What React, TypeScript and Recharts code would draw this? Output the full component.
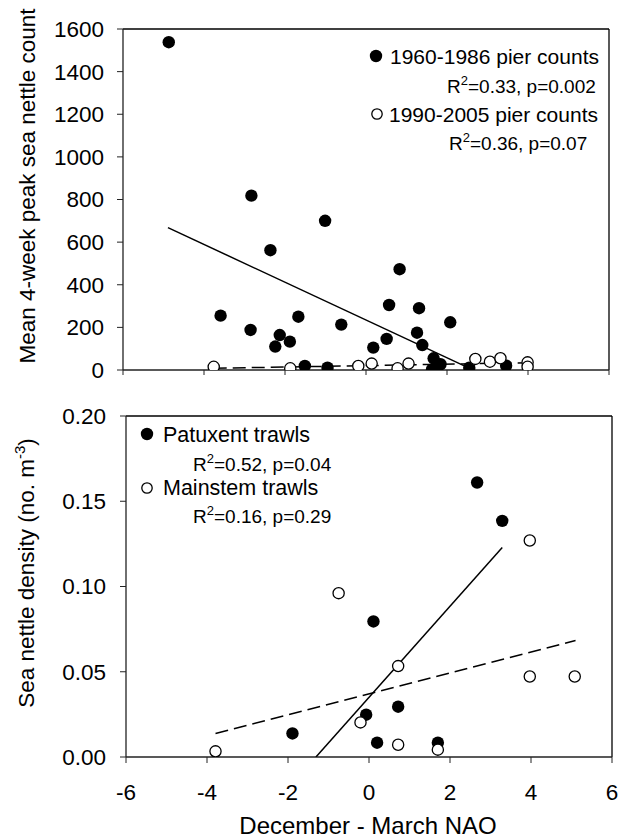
import { ScatterChart, Scatter, XAxis, YAxis, ReferenceLine } from "recharts";

const X_TICKS = [-6, -4, -2, 0, 2, 4, 6];
const PIER_TICKS = [0, 200, 400, 600, 800, 1000, 1200, 1400, 1600];
const TRAWL_TICKS = [0, 0.05, 0.1, 0.15, 0.2];

// top panel: pier counts vs NAO
const pier1960 = [
  { x: -4.87, y: 1538 }, { x: -2.83, y: 818 }, { x: -1.01, y: 700 },
  { x: -2.36, y: 562 }, { x: 0.83, y: 473 }, { x: -3.59, y: 255 },
  { x: -2.85, y: 188 }, { x: -2.13, y: 164 }, { x: -2.24, y: 110 },
  { x: -1.88, y: 133 }, { x: -1.67, y: 250 }, { x: -0.61, y: 213 },
  { x: -1.51, y: 19 }, { x: -0.95, y: 11 }, { x: 0.18, y: 105 },
  { x: 0.57, y: 305 }, { x: 0.51, y: 146 }, { x: 1.31, y: 290 },
  { x: 1.26, y: 175 }, { x: 1.39, y: 117 }, { x: 1.67, y: 55 },
  { x: 1.84, y: 27 }, { x: 1.63, y: 3 }, { x: 2.08, y: 224 },
  { x: 2.55, y: 11 }, { x: 3.46, y: 20 },
];
const pier1990 = [
  { x: -3.76, y: 15 }, { x: -1.87, y: 8 }, { x: -0.19, y: 19 },
  { x: 0.14, y: 30 }, { x: 0.78, y: 8 }, { x: 1.05, y: 30 },
  { x: 2.7, y: 52 }, { x: 3.06, y: 39 }, { x: 3.32, y: 55 },
  { x: 3.99, y: 36 }, { x: 3.99, y: 15 },
];
const pier1960Fit = [{ x: -4.89, y: 668 }, { x: 2.6, y: 4 }];
const pier1990Fit = [{ x: -3.76, y: 8 }, { x: 3.99, y: 34 }];

// bottom panel: trawl densities vs NAO
const patuxent = [
  { x: 2.67, y: 0.161 }, { x: 3.29, y: 0.1385 }, { x: 0.11, y: 0.0795 },
  { x: 0.72, y: 0.0295 }, { x: -0.07, y: 0.0248 }, { x: -1.89, y: 0.0138 },
  { x: 0.2, y: 0.0084 }, { x: 1.7, y: 0.0084 },
];
const mainstem = [
  { x: 3.97, y: 0.127 }, { x: -0.75, y: 0.0961 }, { x: 0.72, y: 0.0533 },
  { x: 3.97, y: 0.0472 }, { x: 5.08, y: 0.0472 }, { x: -0.21, y: 0.0203 },
  { x: 0.72, y: 0.0072 }, { x: 1.7, y: 0.0043 }, { x: -3.79, y: 0.0033 },
];
const patuxentFit = [{ x: -1.31, y: 0 }, { x: 3.29, y: 0.1229 }];
const mainstemFit = [{ x: -3.79, y: 0.0138 }, { x: 5.1, y: 0.0683 }];

const FONT = "'Liberation Sans', Arial, sans-serif";
const AXIS = "#222";
const tickStyle = { fill: "#000", fontSize: 22.5, fontFamily: FONT };

const Filled = (p: any) => <circle cx={p.cx} cy={p.cy} r={6.2} fill="#000" />;
const Open = (p: any) => (
  <circle cx={p.cx} cy={p.cy} r={5.6} fill="#fff" stroke="#000" strokeWidth={1.3} />
);
const Nothing = () => <g />;

const R2 = ({ x, y, text }: { x: number; y: number; text: string }) => (
  <text x={x} y={y} fontSize={19} fontFamily={FONT} fill="#000">
    R
    <tspan dy={-8} fontSize={13}>2</tspan>
    <tspan dy={8}>{text}</tspan>
  </text>
);

export default function App() {
  return (
    <div style={{ position: "absolute", left: 0, top: 0, width: 626, height: 839, background: "#fff" }}>
      <div style={{ position: "absolute", left: 0, top: 0 }}>
        <ScatterChart width={626} height={392} margin={{ top: 29, right: 17, bottom: 0, left: 63 }}>
          <XAxis
            type="number"
            dataKey="x"
            domain={[-6, 6]}
            ticks={X_TICKS}
            tickFormatter={() => ""}
            tickSize={5}
            height={22}
            axisLine={{ stroke: AXIS, strokeWidth: 1.3 }}
            tickLine={{ stroke: AXIS }}
            allowDataOverflow
          />
          <YAxis
            type="number"
            dataKey="y"
            domain={[0, 1600]}
            ticks={PIER_TICKS}
            tickSize={6}
            tickMargin={13}
            width={60}
            tick={tickStyle}
            axisLine={{ stroke: AXIS, strokeWidth: 1.3 }}
            tickLine={{ stroke: AXIS }}
            allowDataOverflow
          />
          <ReferenceLine x={6} stroke="#000" strokeWidth={1.3} />
          <ReferenceLine y={1600} stroke="#000" strokeWidth={1.3} />
          <Scatter data={pier1960Fit} line={{ stroke: "#000", strokeWidth: 1.5 }} shape={Nothing} isAnimationActive={false} />
          <Scatter data={pier1990Fit} line={{ stroke: "#000", strokeWidth: 1.5, strokeDasharray: "13 6" }} shape={Nothing} isAnimationActive={false} />
          <Scatter data={pier1960} shape={Filled} isAnimationActive={false} />
          <Scatter data={pier1990} shape={Open} isAnimationActive={false} />
        </ScatterChart>
      </div>

      <div style={{ position: "absolute", left: 0, top: 400 }}>
        <ScatterChart width={626} height={439} margin={{ top: 16, right: 14, bottom: 20, left: 66 }}>
          <XAxis
            type="number"
            dataKey="x"
            domain={[-6, 6]}
            ticks={X_TICKS}
            tickSize={6}
            tickMargin={21}
            height={62}
            tick={tickStyle}
            axisLine={{ stroke: AXIS, strokeWidth: 1.3 }}
            tickLine={{ stroke: AXIS }}
            allowDataOverflow
          />
          <YAxis
            type="number"
            dataKey="y"
            domain={[0, 0.2]}
            ticks={TRAWL_TICKS}
            tickFormatter={(v: number) => v.toFixed(2)}
            tickSize={6}
            tickMargin={14}
            width={60}
            tick={tickStyle}
            axisLine={{ stroke: AXIS, strokeWidth: 1.3 }}
            tickLine={{ stroke: AXIS }}
            allowDataOverflow
          />
          <ReferenceLine x={6} stroke="#000" strokeWidth={1.3} />
          <ReferenceLine y={0.2} stroke="#000" strokeWidth={1.3} />
          <Scatter data={patuxentFit} line={{ stroke: "#000", strokeWidth: 1.5 }} shape={Nothing} isAnimationActive={false} />
          <Scatter data={mainstemFit} line={{ stroke: "#000", strokeWidth: 1.5, strokeDasharray: "13 6" }} shape={Nothing} isAnimationActive={false} />
          <Scatter data={patuxent} shape={Filled} isAnimationActive={false} />
          <Scatter data={mainstem} shape={Open} isAnimationActive={false} />
        </ScatterChart>
      </div>

      {/* axis titles and legends */}
      <svg width={626} height={839} style={{ position: "absolute", left: 0, top: 0, pointerEvents: "none" }}>
        <text
          transform="translate(35,186) rotate(-90)"
          textAnchor="middle"
          fontSize={22.5}
          fontFamily={FONT}
          fill="#000"
        >
          Mean 4-week peak sea nettle count
        </text>
        <text
          transform="translate(34,573) rotate(-90)"
          textAnchor="middle"
          fontSize={22.5}
          fontFamily={FONT}
          fill="#000"
        >
          Sea nettle density (no. m
          <tspan dy={-9} fontSize={15}>-3</tspan>
          <tspan dy={9}>)</tspan>
        </text>
        <text x={368} y={834} textAnchor="middle" fontSize={24} fontFamily={FONT} fill="#000">
          December - March NAO
        </text>

        <circle cx={376} cy={56} r={6.2} fill="#000" />
        <text x={390} y={64} fontSize={21} fontFamily={FONT} fill="#000">1960-1986 pier counts</text>
        <R2 x={447} y={93} text="=0.33, p=0.002" />
        <circle cx={377} cy={114} r={5.2} fill="#fff" stroke="#000" strokeWidth={1.3} />
        <text x={389} y={122} fontSize={21} fontFamily={FONT} fill="#000">1990-2005 pier counts</text>
        <R2 x={449} y={150} text="=0.36, p=0.07" />

        <circle cx={147} cy={434} r={6.2} fill="#000" />
        <text x={163} y={442} fontSize={21.5} fontFamily={FONT} fill="#000">Patuxent trawls</text>
        <R2 x={193} y={471} text="=0.52, p=0.04" />
        <circle cx={147} cy={488} r={5.2} fill="#fff" stroke="#000" strokeWidth={1.3} />
        <text x={163} y={495} fontSize={21.5} fontFamily={FONT} fill="#000">Mainstem trawls</text>
        <R2 x={193} y={523} text="=0.16, p=0.29" />
      </svg>
    </div>
  );
}
